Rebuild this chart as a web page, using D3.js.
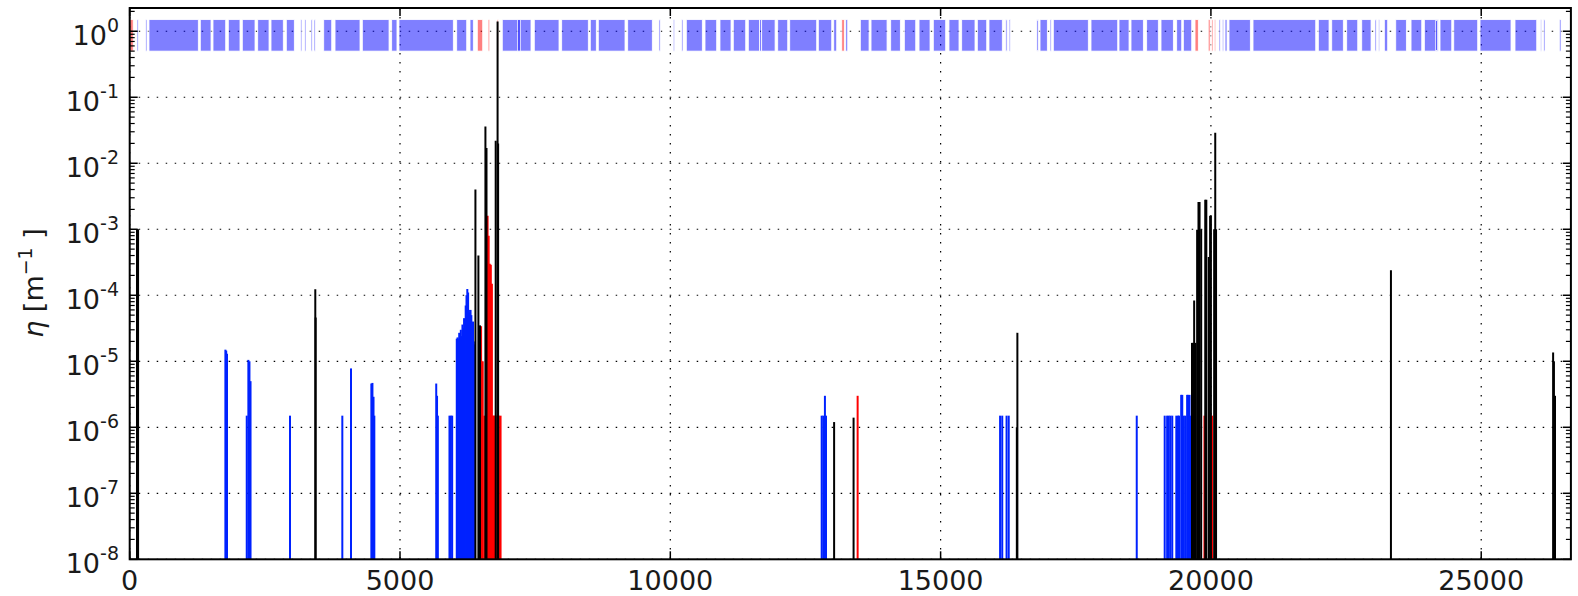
<!DOCTYPE html>
<html><head><meta charset="utf-8">
<script src="https://cdn.jsdelivr.net/npm/d3@7"></script>
<style>
html,body{margin:0;padding:0;background:#fff;}
svg{display:block;font-family:"DejaVu Sans",sans-serif;}
</style></head>
<body><svg id="c" width="1578" height="596"></svg>
<script>
// ---------------- data ----------------
const circumference = 26658.883;
const yTickExponents = [-8,-7,-6,-5,-4,-3,-2,-1,0];
const xTickValues = [0,5000,10000,15000,20000,25000];

// element boxes in the top band: [s_start, s_end]
const boxesBlue = [
 [135,159],[296,320],[357,1269],[1306,1504],[1541,1776],[1824,2040],[2083,2318],[2368,2577],
 [2614,2841],[2897,3045],[3160,3185],[3235,3260],[3355,3380],[3410,3435],[3589,3737],[3798,4260],
 [4303,4797],[4846,4944],[4981,5986],[6049,6234],[6295,6356],
 [6892,7423],[7177,7225],[7484,7941],[7991,8483],[8520,8631],[8668,9162],[9212,9667],
 [9790,9815],[10055,10081],[10211,10235],[10296,10592],[10642,10858],[10919,11123],[11165,11395],
 [11443,11650],[11650,11690],[11690,11938],[11987,12172],[12209,12708],[12738,12986],[13023,13078],
 [13245,13282],[13515,13676],[13713,14009],[14077,14255],[14329,14540],[14601,14804],[14865,15094],
 [15155,15340],[15390,15636],[15679,15853],[15895,16141],[16205,16230],[16268,16293],
 [16780,16810],[16839,16974],[17025,17050],[17085,17732],[17782,18276],[18300,18485],[18522,18750],
 [18812,19027],[19077,19305],[19367,19460],[19490,19645],
 [20150,20174],[20211,20237],[20261,20298],[20335,20729],[20779,21939],[21987,22185],[22235,22449],
 [22512,22716],[22790,22962],[23035,23060],[23098,23122],[23208,23270],[23419,23615],[23702,23900],
 [23948,24207],[24158,24188],[24238,24455],[24492,24935],[24978,25551],[25625,26027],
 [26095,26118],[26155,26180],[26445,26476]
];
const boxesRed = [
 [0,65],[6430,6530],[6630,6660],[6795,6820],[13171,13219],[19706,19767],[19950,19985],
 [20015,20039],[20063,20089]
];

// loss spikes: [s, eta]
const spikesBlue = [
 [1770,1.5e-5],[1785,1.45e-5],[1800,1.3e-5],
 [2165,1.5e-6],[2195,1.05e-5],[2215,1.0e-5],[2235,5e-6],
 [2965,1.5e-6],
 [3933,1.5e-6],[4094,7.8e-6],
 [4470,4.6e-6],[4490,4.7e-6],[4510,2.9e-6],[4525,1.5e-6],
 [5670,4.6e-6],[5685,3e-6],[5700,1.5e-6],
 [5915,1.5e-6],[5940,1.5e-6],[5965,1.5e-6],
 [6050,2.2e-5],[6065,2.3e-5],[6080,2.2e-5],[6095,2.7e-5],[6110,2.6e-5],[6125,3.0e-5],[6140,2.4e-5],
 [6155,3.6e-5],[6170,3.2e-5],[6185,4.5e-5],[6200,3.8e-5],[6215,7e-5],[6230,1.0e-4],[6245,1.25e-4],
 [6260,1.1e-4],[6275,6e-5],[6290,5.5e-5],[6305,6e-5],[6320,5e-5],[6335,3e-5],[6350,4e-5],[6365,2e-5],[6380,1.8e-5],
 [12800,1.5e-6],[12830,1.5e-6],[12860,3e-6],[12880,1.5e-6],
 [16100,1.5e-6],[16140,1.5e-6],[16220,1.5e-6],[16260,1.5e-6],
 [18628,1.5e-6],
 [19145,1.5e-6],[19190,1.5e-6],[19220,1.5e-6],[19250,1.5e-6],[19285,1.5e-6],
 [19360,1.5e-6],[19390,1.5e-6],[19410,1.5e-6],[19450,3.1e-6],[19470,3.1e-6],[19500,1.5e-6],
 [19530,1.5e-6],[19560,3.1e-6],[19580,3.1e-6],[19605,3.1e-6],[19630,1.5e-6]
];
const spikesRed = [
 [6470,2e-5],[6500,3.4e-5],[6530,1e-5],[6560,1.5e-6],[6620,1.6e-3],[6640,8e-4],[6660,3e-4],
 [6680,2.9e-4],[6700,1.5e-4],[6720,1.5e-6],[6740,1.5e-6],[6760,1.5e-6],[6800,1.5e-6],[6830,1.5e-6],[6860,1.5e-6],
 [13465,3e-6],
 [19880,1.5e-6],[20020,1.5e-6]
];
const spikesBlack = [
 [135,1e-3],[155,1e-3],
 [3433,1.23e-4],[3440,4.6e-5],
 [6395,4e-3],[6450,4e-4],[6480,3.5e-5],[6580,0.036],[6600,0.017],[6770,0.022],[6805,1.4],[6815,0.02],
 [13030,1.2e-6],[13390,1.4e-6],
 [16420,2.7e-5],[16410,1e-6],
 [19650,1.9e-5],[19670,1.9e-5],[19690,8.3e-5],[19715,1.9e-5],[19745,9.8e-4],[19770,2.6e-3],[19790,2.6e-3],
 [19820,1e-3],[19895,2.8e-3],[19915,2.8e-3],[19960,3.8e-4],[19985,1.6e-3],[20000,1.6e-3],[20060,1e-3],[20080,0.029],[20095,1e-3],
 [23330,2.4e-4],
 [26330,1.36e-5],[26345,1e-5],[26365,3e-6]
];

// ---------------- layout ----------------
const L=129.7, R=1570.9, T=8, B=559.3;
const svg = d3.select("#c");
const x = d3.scaleLinear().domain([0,circumference]).range([L,R]);
const y = d3.scaleLog().domain([1e-8,2.25]).range([B,T]);
const txt = "#1a1a1a";

// grid
const g = svg.append("g");
xTickValues.forEach(v=>{
  g.append("line").attr("x1",x(v)).attr("x2",x(v)).attr("y1",T).attr("y2",B)
   .attr("stroke","#000").attr("stroke-width",1.2).attr("stroke-dasharray","1.5,7.5");
});
yTickExponents.forEach(e=>{
  g.append("line").attr("x1",L).attr("x2",R).attr("y1",y(Math.pow(10,e))).attr("y2",y(Math.pow(10,e)))
   .attr("stroke","#000").attr("stroke-width",1.2).attr("stroke-dasharray","1.5,7.5");
});

// boxes
const band = svg.append("g");
band.selectAll("rect.b").data(boxesBlue).join("rect")
  .attr("x",d=>x(d[0])).attr("width",d=>Math.max(0.5,x(d[1])-x(d[0])))
  .attr("y",y(1.5)).attr("height",y(0.5)-y(1.5))
  .attr("fill","#0000ff").attr("fill-opacity",0.5).attr("stroke","#fff").attr("stroke-width",0.8);
band.selectAll("rect.r").data(boxesRed).join("rect")
  .attr("x",d=>x(d[0])).attr("width",d=>Math.max(0.5,x(d[1])-x(d[0])))
  .attr("y",y(1.5)).attr("height",y(0.5)-y(1.5))
  .attr("fill","#ff0000").attr("fill-opacity",0.5).attr("stroke","#fff").attr("stroke-width",0.8);

// spikes
function drawSpikes(data,color){
  svg.append("g").selectAll("line").data(data).join("line")
    .attr("x1",d=>x(d[0])).attr("x2",d=>x(d[0]))
    .attr("y1",y(1e-8)).attr("y2",d=>y(d[1]))
    .attr("stroke",color).attr("stroke-width",2);
}
drawSpikes(spikesBlue,"#0022ff");
drawSpikes(spikesRed,"#ff0000");
drawSpikes(spikesBlack,"#000000");

// frame
svg.append("rect").attr("x",L).attr("y",T).attr("width",R-L).attr("height",B-T)
  .attr("fill","none").attr("stroke","#000").attr("stroke-width",2);

// ticks
const ax = svg.append("g");
xTickValues.forEach(v=>{
  ax.append("line").attr("x1",x(v)).attr("x2",x(v)).attr("y1",B).attr("y2",B-8).attr("stroke","#000").attr("stroke-width",1.5);
  ax.append("line").attr("x1",x(v)).attr("x2",x(v)).attr("y1",T).attr("y2",T+8).attr("stroke","#000").attr("stroke-width",1.5);
  ax.append("text").attr("x",x(v)).attr("y",590).attr("text-anchor","middle")
    .attr("font-size",27).attr("fill",txt).text(d3.format("d")(v));
});
yTickExponents.forEach(e=>{
  const yy=y(Math.pow(10,e));
  ax.append("line").attr("x1",L).attr("x2",L+8).attr("y1",yy).attr("y2",yy).attr("stroke","#000").attr("stroke-width",1.5);
  ax.append("line").attr("x1",R).attr("x2",R-8).attr("y1",yy).attr("y2",yy).attr("stroke","#000").attr("stroke-width",1.5);
  for(let m=2;m<10;m++){
    const v=m*Math.pow(10,e);
    if(v>2.25) break;
    const ym=y(v);
    ax.append("line").attr("x1",L).attr("x2",L+5).attr("y1",ym).attr("y2",ym).attr("stroke","#000").attr("stroke-width",1.2);
    ax.append("line").attr("x1",R).attr("x2",R-5).attr("y1",ym).attr("y2",ym).attr("stroke","#000").attr("stroke-width",1.2);
  }
  const t = ax.append("text").attr("x",119).attr("y",yy+14).attr("text-anchor","end")
    .attr("font-size",27).attr("fill",txt);
  t.append("tspan").text("10");
  t.append("tspan").attr("dy",-13).attr("font-size",19).text(e<0?"-"+(-e):""+e);
});

// y label
const yl = svg.append("text").attr("transform","translate(43,283) rotate(-90)")
  .attr("text-anchor","middle").attr("font-size",27).attr("fill",txt);
yl.append("tspan").attr("font-style","italic").text("η");
yl.append("tspan").text(" [m");
yl.append("tspan").attr("dy",-11).attr("font-size",19).text("−1");
yl.append("tspan").attr("dy",11).text(" ]");
</script></body></html>
